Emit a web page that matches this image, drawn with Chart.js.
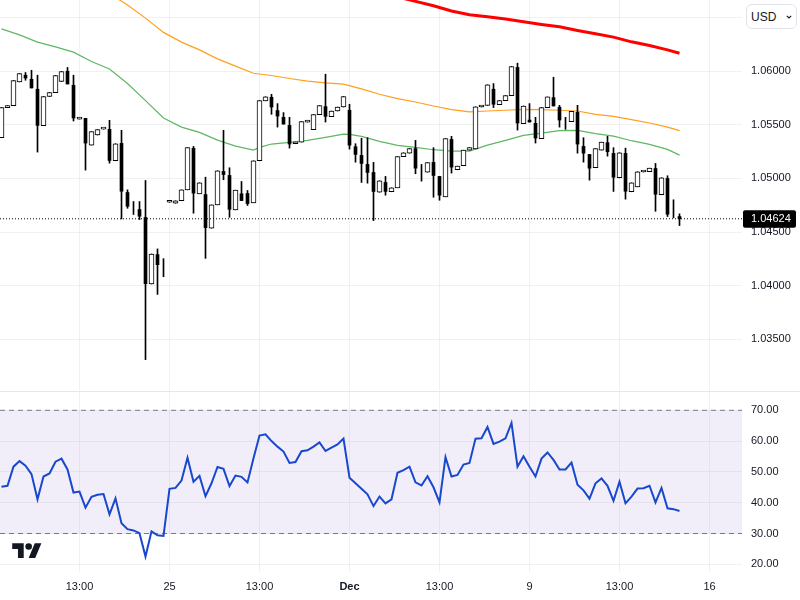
<!DOCTYPE html>
<html>
<head>
<meta charset="utf-8">
<title>EURUSD</title>
<script src="https://cdn.jsdelivr.net/npm/chart.js@4"></script>
<style>
  html,body{margin:0;padding:0;background:#fff;overflow:hidden}
  #wrap{position:relative;width:800px;height:600px}
  canvas{position:absolute;left:0}
  #priceChart{top:0}
  #rsiChart{top:392px}
  #divider{position:absolute;left:0;top:391px;width:800px;height:1px;background:#e6e7ee}
  #usd{position:absolute;left:746px;top:4px;width:45px;height:23px;border:1px solid #e0e3eb;border-radius:6px;background:#fff;
       font:12px "Liberation Sans",Arial,sans-serif;color:#131722;line-height:24px;padding-left:4px}
  #usd svg{position:absolute;left:39px;top:10px}
  #logo{position:absolute;left:12px;top:540px}
</style>
</head>
<body>
<div id="wrap">
  <canvas id="priceChart" width="800" height="392"></canvas>
  <canvas id="rsiChart" width="800" height="208"></canvas>
  <div id="divider"></div>
  <div id="usd">USD<svg width="6" height="4" viewBox="0 0 6 4"><path d="M0.8 0.8L3 3L5.2 0.8" fill="none" stroke="#131722" stroke-width="1.1"/></svg></div>
  <svg id="logo" width="30" height="23" viewBox="0 0 36 28" fill="#131722"><path d="M14 22H7V11H0V4h14v18zM28 22h-8l7.5-18h8L28 22z"/><circle cx="20" cy="8" r="4"/></svg>
</div>

<script>
// -------- DATA ----------
const opens = [1.0538,1.05661,1.05679,1.059,1.05963,1.05925,1.05832,1.05493,1.05764,1.05801,1.05904,1.06,1.05869,1.05554,1.05561,1.05311,1.05405,1.0546,1.05458,1.05165,1.05327,1.04869,1.04724,1.0471,1.04636,1.04016,1.0429,1.04178,1.04778,1.04769,1.04792,1.04894,1.0528,1.04857,1.0485,1.04537,1.04754,1.05065,1.05028,1.04707,1.04857,1.0486,1.04773,1.05165,1.05724,1.05757,1.05633,1.0557,1.05495,1.05324,1.05339,1.05526,1.05455,1.05595,1.0567,1.05577,1.05629,1.05666,1.05636,1.05296,1.05215,1.05131,1.05056,1.04872,1.04963,1.04876,1.04913,1.05203,1.05236,1.05278,1.05065,1.05059,1.0515,1.05019,1.04829,1.05364,1.05081,1.05119,1.05264,1.05276,1.05666,1.05682,1.05832,1.05689,1.05726,1.05773,1.06035,1.05511,1.05542,1.05514,1.05371,1.05661,1.05754,1.05664,1.05542,1.0553,1.05617,1.05299,1.05224,1.051,1.05264,1.05334,1.05234,1.05007,1.05234,1.04876,1.04922,1.0506,1.05063,1.05093,1.04848,1.05,1.04645,1.04645];
const highs = [1.05661,1.05679,1.05913,1.05978,1.05988,1.06009,1.05963,1.05764,1.05801,1.0596,1.05997,1.06035,1.05963,1.05567,1.05561,1.05436,1.05455,1.05464,1.05542,1.05324,1.05449,1.04894,1.04785,1.04785,1.04981,1.04296,1.04343,1.04252,1.04782,1.04792,1.04894,1.05287,1.05299,1.0496,1.05012,1.04754,1.05072,1.05449,1.051,1.04891,1.04972,1.04888,1.05165,1.05726,1.05762,1.05785,1.05698,1.05614,1.0557,1.05339,1.0553,1.05539,1.05595,1.05679,1.05972,1.05629,1.05666,1.05764,1.05692,1.05324,1.05374,1.0538,1.0515,1.04979,1.05019,1.04913,1.05203,1.0524,1.05278,1.05355,1.05131,1.05147,1.05287,1.05019,1.05371,1.05393,1.05115,1.05264,1.05287,1.05668,1.0567,1.05874,1.05885,1.05726,1.05773,1.06044,1.06075,1.05676,1.05698,1.0557,1.05661,1.0576,1.05944,1.05682,1.0557,1.05626,1.05682,1.0538,1.05224,1.05278,1.05339,1.05393,1.05287,1.0524,1.05283,1.0496,1.05063,1.05063,1.05096,1.0514,1.05007,1.05025,1.04801,1.0467];
const lows = [1.0538,1.05661,1.05679,1.059,1.05916,1.05844,1.05246,1.05493,1.05764,1.05801,1.05904,1.05881,1.05536,1.05554,1.05078,1.05311,1.05405,1.0546,1.05143,1.05165,1.04623,1.04722,1.04664,1.04617,1.03311,1.04016,1.03919,1.04084,1.04778,1.04769,1.04792,1.04894,1.04676,1.04857,1.04255,1.04537,1.04754,1.04988,1.04638,1.04707,1.04794,1.04748,1.04773,1.05165,1.05724,1.05598,1.05479,1.05507,1.05283,1.05324,1.05339,1.05526,1.05455,1.05595,1.05526,1.05577,1.05629,1.05666,1.05274,1.05152,1.04963,1.04956,1.04607,1.04872,1.04844,1.04876,1.04913,1.05203,1.05236,1.05044,1.04975,1.05059,1.04825,1.04797,1.04829,1.0505,1.05081,1.05119,1.05264,1.05276,1.05666,1.05682,1.05661,1.05689,1.05726,1.05773,1.05451,1.05511,1.05526,1.0533,1.05371,1.05661,1.05676,1.05479,1.05458,1.0553,1.05236,1.05152,1.04984,1.051,1.05264,1.05208,1.04879,1.05007,1.04807,1.04876,1.04922,1.0506,1.05063,1.04694,1.04848,1.04645,1.04633,1.04561];
const closes = [1.05661,1.05679,1.05913,1.05978,1.05937,1.05844,1.05495,1.05764,1.05801,1.0596,1.05997,1.05881,1.05564,1.05567,1.0533,1.05436,1.05455,1.05464,1.05168,1.05324,1.04881,1.04741,1.04724,1.04648,1.04019,1.04296,1.04196,1.04178,1.04782,1.04792,1.04894,1.05287,1.04863,1.0496,1.04542,1.04754,1.05072,1.05037,1.04713,1.04891,1.04794,1.04766,1.05165,1.05726,1.05762,1.05666,1.05582,1.05507,1.05321,1.05339,1.0553,1.05539,1.05595,1.05679,1.05579,1.05629,1.05666,1.05764,1.05311,1.05224,1.0514,1.05056,1.04879,1.04979,1.04879,1.04913,1.05203,1.0524,1.05278,1.05096,1.05065,1.05147,1.05028,1.04844,1.05371,1.05106,1.05115,1.05264,1.05287,1.05668,1.0567,1.05874,1.05692,1.05726,1.05773,1.06044,1.05517,1.05676,1.05526,1.05377,1.05661,1.0576,1.05676,1.05545,1.05542,1.05626,1.05321,1.05236,1.05096,1.05278,1.05339,1.0525,1.05012,1.0524,1.04881,1.0496,1.05063,1.05063,1.05096,1.04853,1.05007,1.04666,1.04645,1.04624];
const lastPrice = 1.04624;

const maFastIdx = [0,3,6,9,12,15,18,21,24,27,30,33,36,39,42,43,45,48,51,54,57,58,60,63,66,69,72,75,78,81,84,87,90,93,96,99,102,105,108,111,113];
const maFast = [1.06395,1.06339,1.06271,1.06227,1.06178,1.06091,1.06021,1.05885,1.05726,1.05564,1.05479,1.0543,1.05358,1.05302,1.05264,1.0529,1.05321,1.05336,1.05355,1.05383,1.05414,1.05411,1.05393,1.05346,1.05308,1.0529,1.05268,1.05255,1.05255,1.05311,1.05355,1.05402,1.05423,1.05446,1.05449,1.05418,1.05395,1.05352,1.05318,1.05271,1.05218];
const maMidIdx = [19,21,24,27,30,33,36,39,42,45,48,51,54,57,60,63,66,69,72,75,78,81,84,87,90,93,96,99,102,105,108,111,113];
const maMid = [1.06689,1.06617,1.06495,1.06362,1.06271,1.06199,1.06115,1.06047,1.05981,1.0596,1.05932,1.05907,1.05891,1.05879,1.05835,1.05785,1.05745,1.05713,1.05676,1.05642,1.0562,1.05629,1.05636,1.05645,1.05642,1.05636,1.05629,1.05598,1.05579,1.05549,1.05517,1.05479,1.05446];
const maSlowIdx = [67,69,72,75,78,81,84,87,90,93,96,99,102,105,108,111,113];
const maSlow = [1.06679,1.06651,1.0661,1.06561,1.06526,1.06507,1.06486,1.06461,1.06436,1.06414,1.0638,1.06349,1.06318,1.06274,1.0624,1.06199,1.06168];

const rsi = [45.2,45.5,51.7,53.5,52,49.3,41.1,48.5,49.5,53.3,54.3,50.8,43.3,43.6,38.4,41.9,42.6,42.8,36.2,41.4,33.3,31.4,31,30.1,22.5,30.7,29.4,29.2,44.5,44.8,47.2,54.6,46.8,48.7,42.1,46.3,51.6,51,45.4,48.8,48.4,46.6,54.4,61.8,62.2,60,58.2,56.6,52.9,53.2,56.7,57,58.2,59.6,56.8,57.9,58.9,60.8,48.1,46.3,44.5,42.7,38.9,42,39.8,41.1,49.7,50.6,51.7,46.6,45.6,48.6,45,40.1,54.8,48.5,49,52.4,52.9,60.8,60.9,64.6,59.1,59.8,60.9,65.9,51.7,55.1,51.7,48.5,54.3,56.3,53.9,50.8,50.8,53,45.8,44,41.3,46.3,47.9,45.5,40.6,46.8,39.8,42,44.6,44.7,45.5,40.1,44.8,38.2,37.9,37.3];
const rsiUpper = 70;
const rsiLower = 30;

const timeTickPos = [13,28,43,58,73,88,103,118];
const timeTickLabels = ['13:00','25','13:00','Dec','13:00','9','13:00','16'];
const priceTicks = [1.035,1.04,1.045,1.05,1.055,1.06,1.065];
const rsiTicks = [20,30,40,50,60,70];

// -------- COMMON ----------
const FONT = '"Liberation Sans", Arial, sans-serif';
const TEXT = '#131722';
const GRID = 'rgba(42,46,57,0.065)';
const xMin = -0.25, xMax = 123.4167;   // 6px per candle over the 742px plot

// chart.js reserves room for half a tick label at the axis ends, the plot must fill the canvas
const noPadding = a => { a.paddingLeft = a.paddingRight = a.paddingTop = a.paddingBottom = 0; };

const xScale = (showLabels) => ({
  type:'linear', min:xMin, max:xMax, offset:false,  // bar charts default to offset:true
  afterBuildTicks: a => { a.ticks = timeTickPos.map(v=>({value:v})); },
  afterFit: a => { a.height = showLabels ? 28 : 0; noPadding(a); },
  border:{display:false},
  grid:{color:GRID, drawTicks:false, offset:false},
  ticks:{
    display:showLabels, padding:8, maxRotation:0, autoSkip:false, color:TEXT,
    font: c => ({family:FONT, size:11, weight: (c.tick && c.tick.label==='Dec') ? '700' : '400'}),
    callback: v => timeTickLabels[timeTickPos.indexOf(v)]
  }
});

const yScale = (min,max,tickList,fmt) => ({
  position:'right', min, max,
  afterBuildTicks: a => { a.ticks = tickList.map(v=>({value:v})); },
  afterFit: a => { a.width = 58; noPadding(a); },
  border:{display:false},
  grid:{color:GRID, drawTicks:false},
  ticks:{padding:9, autoSkip:false, color:TEXT, font:{family:FONT,size:11}, callback:fmt}
});

const series = (idx,vals) => idx.map((k,i)=>({x:k,y:vals[i]}));
const lineSet = (data,color,width,order,extra) => Object.assign({
  type:'line', data, borderColor:color, borderWidth:width, pointRadius:0, tension:0, order
}, extra||{});

const baseOpts = {
  responsive:false, animation:false, devicePixelRatio:1, events:[],
  layout:{padding:0},
  plugins:{legend:{display:false}, tooltip:{enabled:false}}
};

// plugin: black box with the last price on the axis
const lastPriceTag = {
  id:'lastPriceTag',
  afterDraw(chart){
    const {ctx, scales:{y}} = chart;
    const py = y.getPixelForValue(lastPrice);
    ctx.save();
    ctx.fillStyle = '#000';
    ctx.beginPath();
    ctx.roundRect(743, py-8.5, 53, 17.5, 2);
    ctx.fill();
    ctx.fillStyle = '#fff';
    ctx.font = '11px '+FONT;
    ctx.textBaseline = 'middle';
    ctx.fillText(lastPrice.toFixed(5), 751, py+0.5);
    ctx.restore();
  }
};

// -------- PRICE ----------
const wicks = opens.map((o,k)=>({x:k, y:[lows[k],highs[k]]}));
const upBodies = [], downBodies = [];
opens.forEach((o,k)=>{
  if (closes[k] > o) upBodies.push({x:k, y:[o,closes[k]]});
  else if (closes[k] < o) downBodies.push({x:k, y:[closes[k],o]});
});

new Chart(document.getElementById('priceChart').getContext('2d'), {
  type:'bar',
  data:{datasets:[
    lineSet([{x:xMin,y:lastPrice},{x:xMax,y:lastPrice}],'#000',1,0,{borderDash:[1,2]}),
    {data:upBodies, grouped:false, barThickness:5, minBarLength:2, backgroundColor:'#fff', borderColor:'#000', borderWidth:1, borderSkipped:false, order:1},
    {data:downBodies, grouped:false, barThickness:3, minBarLength:2, backgroundColor:'#000', borderWidth:0, order:1},
    {data:wicks, grouped:false, barThickness:1, backgroundColor:'#000', borderWidth:0, order:2},
    lineSet(series(maFastIdx,maFast),'#5fb763',1.2,3),
    lineSet(series(maMidIdx,maMid),'#ff9f1c',1.2,3),
    lineSet(series(maSlowIdx,maSlow),'#ff0000',3,3)
  ]},
  options:Object.assign({}, baseOpts, {
    scales:{
      x:xScale(false),
      y:yScale(1.03009,1.06664,priceTicks, v => v > 1.064 ? '' : v.toFixed(5))
    }
  }),
  plugins:[lastPriceTag]
});

// -------- RSI ----------
new Chart(document.getElementById('rsiChart').getContext('2d'), {
  type:'line',
  data:{datasets:[
    lineSet(rsi.map((v,k)=>({x:k,y:v})),'#1848cc',2,0),
    lineSet([{x:xMin,y:rsiUpper},{x:xMax,y:rsiUpper}],'#787b86',1,1,{borderDash:[5,4], fill:'+1', backgroundColor:'rgba(126,87,194,0.1)'}),
    lineSet([{x:xMin,y:rsiLower},{x:xMax,y:rsiLower}],'#787b86',1,1,{borderDash:[5,4]})
  ]},
  options:Object.assign({}, baseOpts, {
    scales:{
      x:xScale(true),
      y:yScale(17.5,75.94,rsiTicks, v => v.toFixed(2))
    }
  })
});
</script>
</body>
</html>
